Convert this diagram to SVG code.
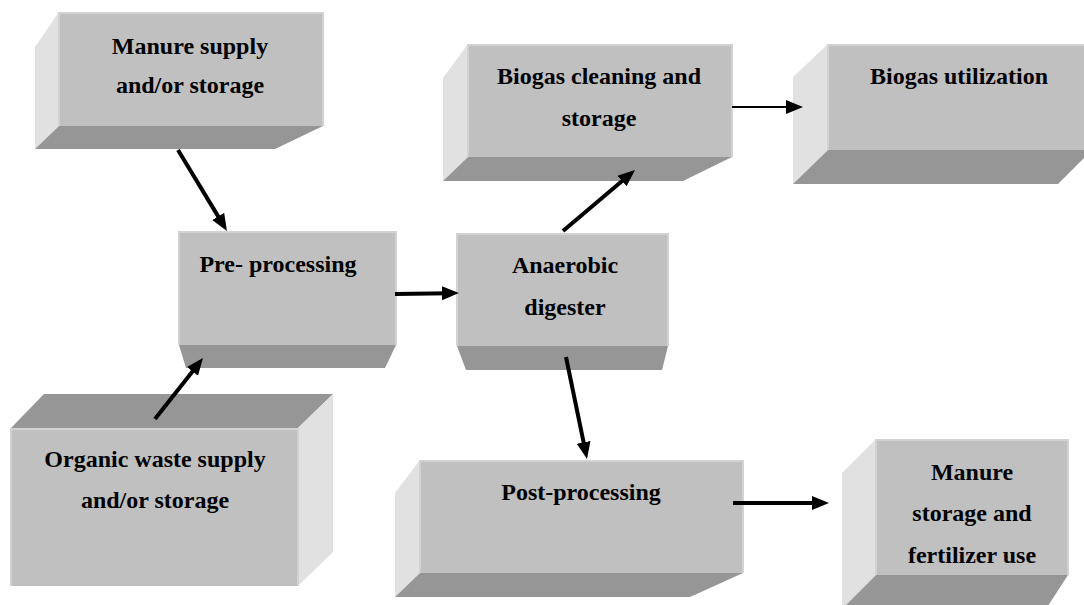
<svg xmlns="http://www.w3.org/2000/svg" width="1084" height="605" viewBox="0 0 1084 605">
<style>
.front{fill:#c0c0c0}
.side{fill:#e1e1e1}
.shade{fill:#969696}
.hl{stroke:#d2d2d2;stroke-width:2;fill:none}
.lbl{font-family:"Liberation Serif","Times New Roman",serif;font-weight:bold;font-size:24px;fill:#000;text-anchor:middle}
.arr{stroke:#000;stroke-width:4;fill:none;marker-end:url(#ah)}
.thin{stroke-width:2}
</style>
<defs>
<marker id="ah" markerUnits="userSpaceOnUse" markerWidth="18" markerHeight="16" refX="7" refY="7" orient="auto">
<path d="M0,0 L17,7 L0,14 z" fill="#000"/>
</marker>
</defs>
<rect width="1084" height="605" fill="#fff"/>

<g id="manure-supply">
<polygon class="side" points="59,12 35,47 35,149 59,126"/>
<polygon class="shade" points="59,126 35,149 275,149 323,126"/>
<rect class="front" x="59" y="12" width="264" height="114"/>
<polyline class="hl" points="59,126 59,13 323,13 323,126"/>
<text class="lbl" x="190" y="54">Manure supply</text>
<text class="lbl" x="190" y="93">and/or storage</text>
</g>

<g id="pre-processing">
<polygon class="shade" points="179,345 396,345 385,368 186,368"/>
<rect class="front" x="179" y="231" width="217" height="114"/>
<polyline class="hl" points="179,345 179,232 396,232 396,345"/>
<text class="lbl" x="278" y="272">Pre- processing</text>
</g>

<g id="organic-waste">
<polygon class="shade" points="11,428 44,394 333,394 298,428"/>
<polygon class="side" points="298,428 333,394 333,552 298,586"/>
<rect class="front" x="11" y="428" width="287" height="158"/>
<polyline class="hl" points="11,586 11,429 298,429 298,586"/>
<text class="lbl" x="155" y="467">Organic waste supply</text>
<text class="lbl" x="155" y="508">and/or storage</text>
</g>

<g id="biogas-cleaning">
<polygon class="side" points="468,44 443,78 443,181 468,157"/>
<polygon class="shade" points="468,157 443,181 683,181 732,157"/>
<rect class="front" x="468" y="44" width="264" height="113"/>
<polyline class="hl" points="468,157 468,45 732,45 732,157"/>
<text class="lbl" x="599" y="84">Biogas cleaning and</text>
<text class="lbl" x="599" y="126">storage</text>
</g>

<g id="biogas-utilization">
<polygon class="side" points="828,44 793,77 793,184 828,150"/>
<polygon class="shade" points="828,150 793,184 1058,184 1092,150"/>
<rect class="front" x="828" y="44" width="260" height="106"/>
<polyline class="hl" points="828,150 828,45 1088,45"/>
<text class="lbl" x="959" y="84">Biogas utilization</text>
</g>

<g id="anaerobic-digester">
<polygon class="shade" points="457,346 668,346 662,370 466,370"/>
<rect class="front" x="457" y="233" width="211" height="113"/>
<polyline class="hl" points="457,346 457,234 668,234 668,346"/>
<text class="lbl" x="565" y="273">Anaerobic</text>
<text class="lbl" x="565" y="315">digester</text>
</g>

<g id="post-processing">
<polygon class="side" points="420,460 395,493 395,597 420,573"/>
<polygon class="shade" points="420,573 395,597 690,597 743,573"/>
<rect class="front" x="420" y="460" width="323" height="113"/>
<polyline class="hl" points="420,573 420,461 743,461 743,573"/>
<text class="lbl" x="581" y="500">Post-processing</text>
</g>

<g id="manure-storage">
<polygon class="side" points="876,439 842,473 842,609 876,575"/>
<polygon class="shade" points="876,575 842,609 1046,609 1068,575"/>
<rect class="front" x="876" y="439" width="192" height="136"/>
<polyline class="hl" points="876,575 876,440 1068,440 1068,575"/>
<text class="lbl" x="972" y="480">Manure</text>
<text class="lbl" x="972" y="521">storage and</text>
<text class="lbl" x="972" y="563">fertilizer use</text>
</g>

<g id="connectors">
<line class="arr" x1="178" y1="150" x2="221.8" y2="222.4"/>
<line class="arr" x1="155" y1="419" x2="196.8" y2="365.9"/>
<line class="arr" x1="395" y1="294" x2="449" y2="293.2"/>
<line class="arr" x1="563" y1="231" x2="627.4" y2="176.5"/>
<line class="arr thin" x1="732" y1="107" x2="793" y2="107"/>
<line class="arr" x1="566" y1="357" x2="585" y2="449.2"/>
<line class="arr" x1="733" y1="503" x2="819" y2="503"/>
</g>
</svg>
